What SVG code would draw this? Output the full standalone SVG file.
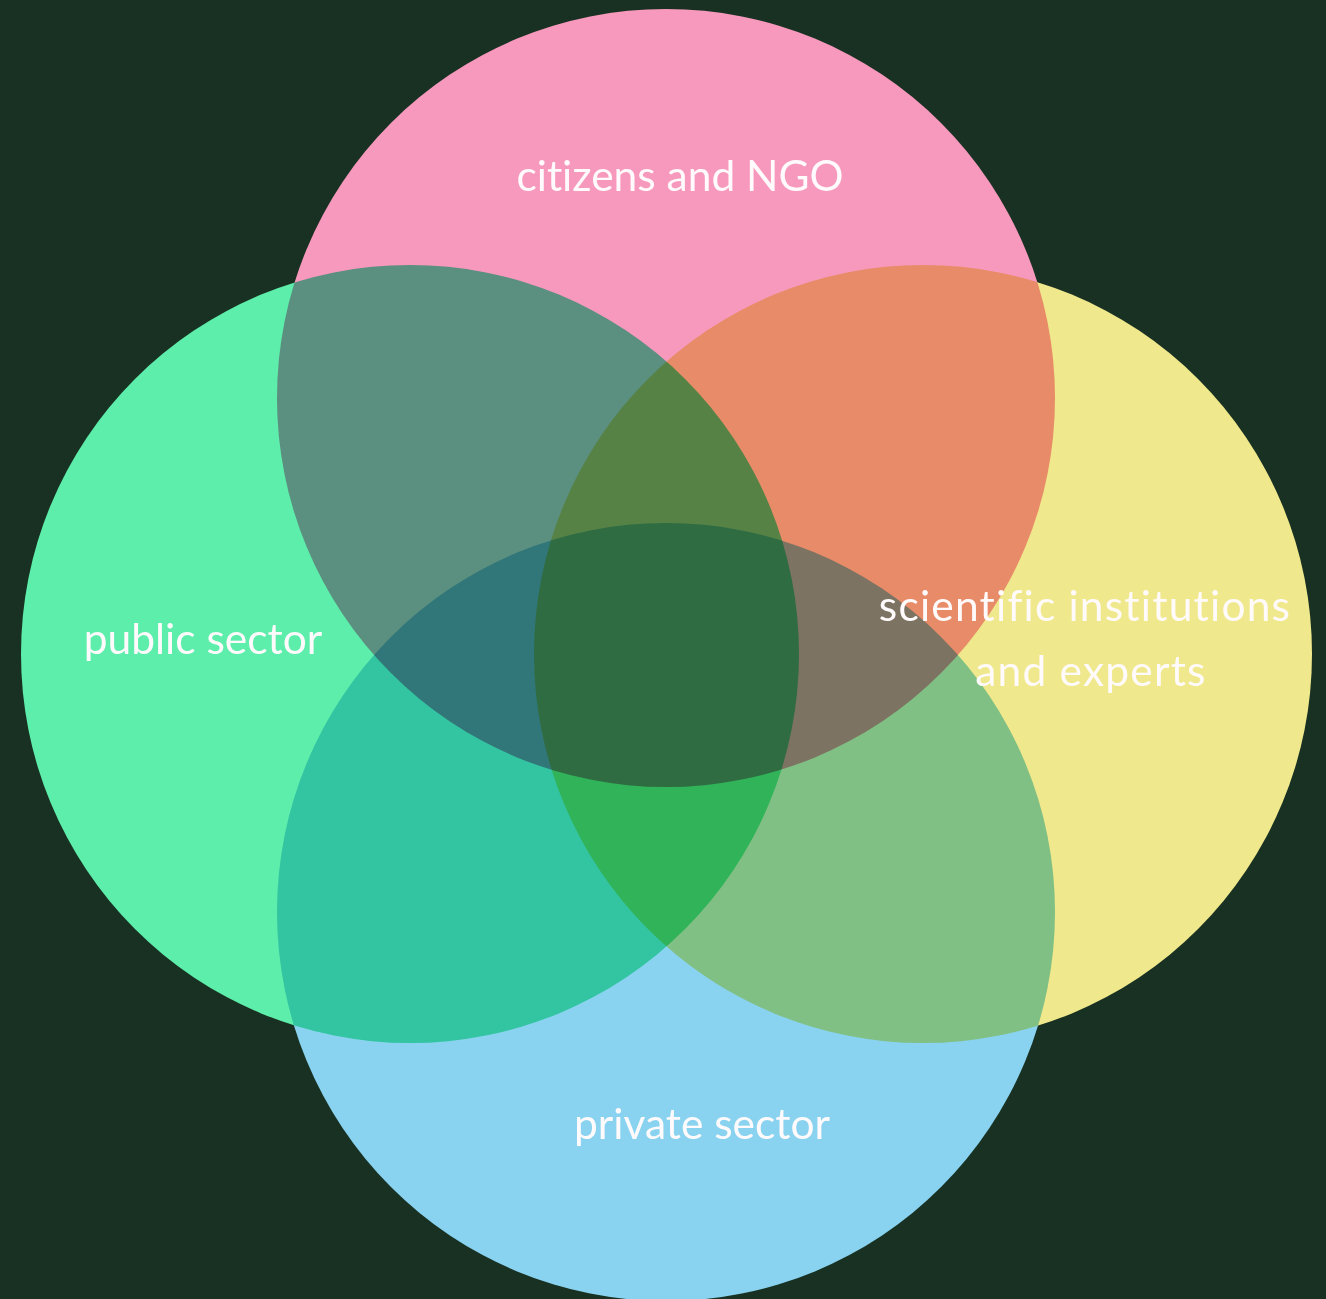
<svg xmlns="http://www.w3.org/2000/svg" width="1326" height="1299" viewBox="0 0 1326 1299">
  <style>
    .set { mix-blend-mode: multiply; }
    .label { font-family: Lato, "Open Sans", "Liberation Sans", sans-serif; font-size: 42.5px; fill: #fffafb; text-anchor: middle; font-variant-ligatures: none; }
    .wide { letter-spacing: 1.2px; }
  </style>
  <rect width="1326" height="1299" fill="#183122"/>
  <!-- four overlapping sets, colours multiply where they overlap -->
  <g id="sets" style="isolation:isolate">
    <g id="citizens"><circle class="set" cx="666" cy="398" r="389" fill="#f799bd"/></g>
    <g id="public"><circle class="set" cx="410" cy="654" r="389" fill="#5eeeab"/></g>
    <g id="scientific"><circle class="set" cx="923" cy="654" r="389" fill="#f0e88c"/></g>
    <g id="private"><circle class="set" cx="666" cy="912" r="389" fill="#89d3f0"/></g>
  </g>
  <g id="labels">
    <text class="label" x="680" y="191">citizens and NGO</text>
    <text class="label" x="203" y="654">public sector</text>
    <text class="label wide" x="1085" y="621">scientific institutions</text>
    <text class="label wide" x="1091" y="686">and experts</text>
    <text class="label" x="702" y="1139">private sector</text>
  </g>
</svg>
